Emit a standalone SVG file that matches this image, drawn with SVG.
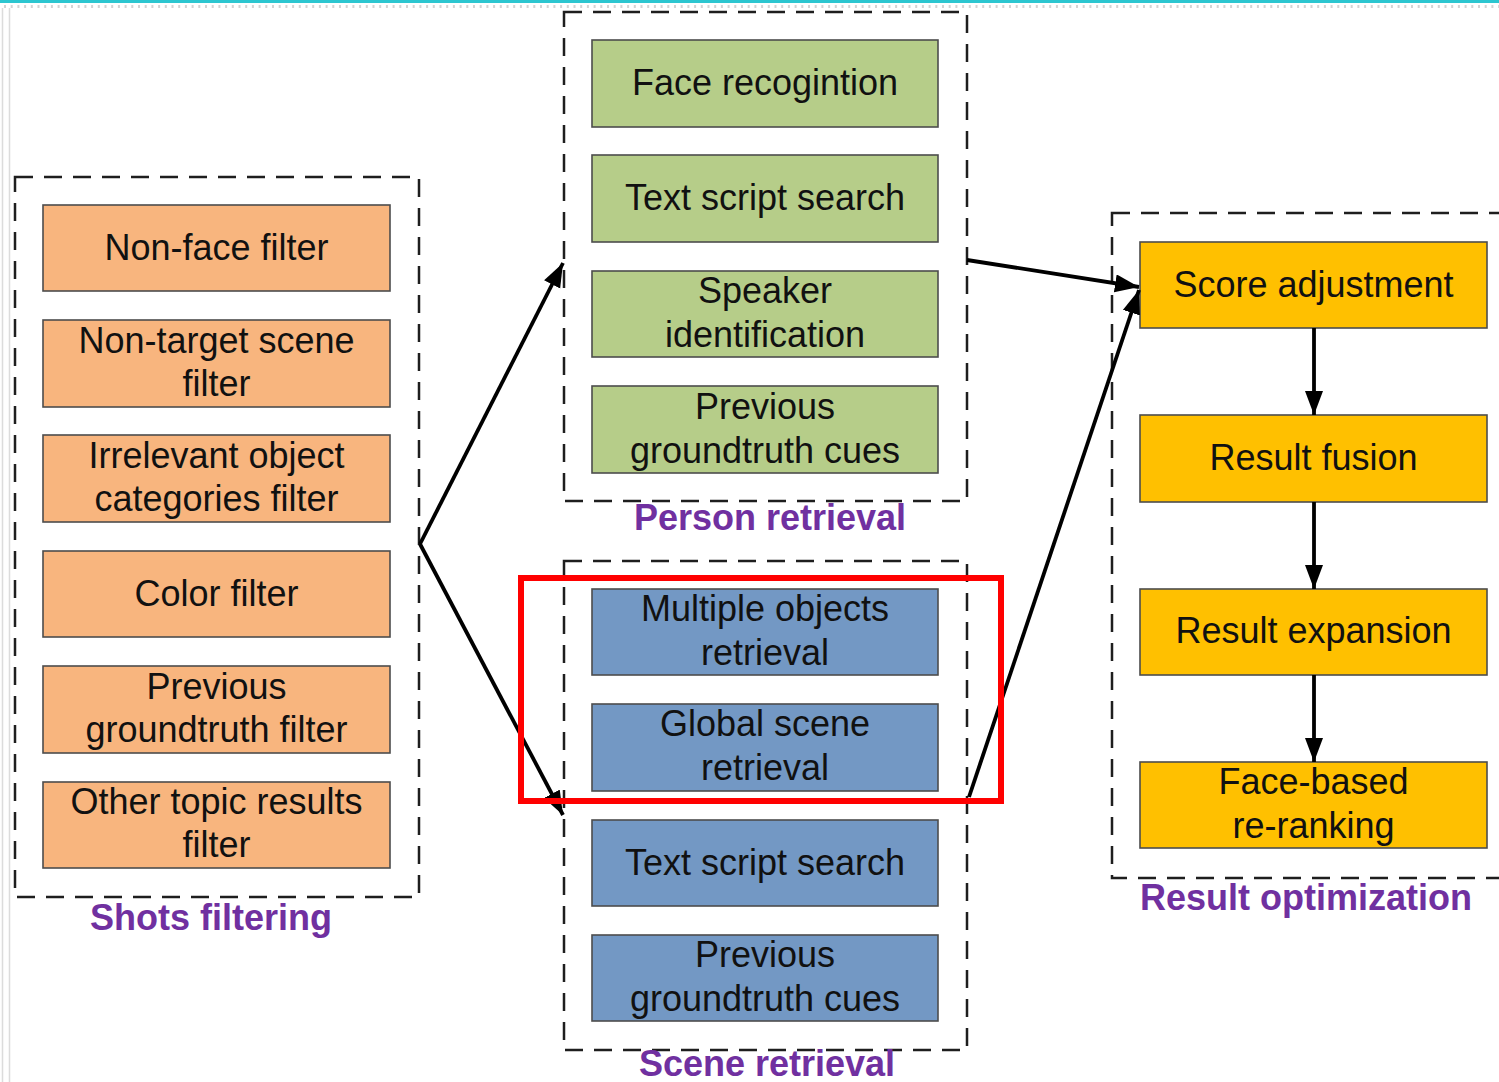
<svg xmlns="http://www.w3.org/2000/svg" width="1499" height="1082" viewBox="0 0 1499 1082">
  <style>
    .frame { fill: none; stroke: #1e1e1e; stroke-width: 2.5; stroke-dasharray: 18 11; }
    .node { stroke: #4d4d4d; stroke-width: 1.6; }
    .orange { fill: #F8B57E; }
    .green { fill: #B6CD89; }
    .blue { fill: #7398C4; }
    .gold { fill: #FFC000; }
    .t { font-family: "Liberation Sans", Arial, sans-serif; font-size: 36px; fill: #111; text-anchor: middle; }
    .cap { font-family: "Liberation Sans", Arial, sans-serif; font-size: 36px; font-weight: bold; fill: #7030A0; text-anchor: middle; }
    .link { stroke: #000; stroke-width: 3.8; fill: none; marker-end: url(#head); }
  </style>
  <defs>
    <marker id="head" markerUnits="userSpaceOnUse" markerWidth="26" markerHeight="20" refX="24" refY="9" orient="auto">
      <path d="M0,0 L24,9 L0,18 z" fill="#000"/>
    </marker>
  </defs>

  <rect width="1499" height="1082" fill="#fff"/>

  <!-- page edge decorations -->
  <rect x="0" y="0" width="1499" height="3" fill="#2CC6D0"/>
  <line x1="4" y1="6.5" x2="1499" y2="6.5" stroke="#d4d4d4" stroke-width="3" stroke-dasharray="2 4.7"/>
  <line x1="2.5" y1="8" x2="2.5" y2="1082" stroke="#dcdcdc" stroke-width="1.5"/>
  <line x1="9.5" y1="8" x2="9.5" y2="1082" stroke="#dcdcdc" stroke-width="1.5"/>

  <!-- group frames -->
  <g id="frames">
    <rect class="frame" x="15" y="177" width="404" height="720"/>
    <rect class="frame" x="564" y="12" width="403" height="489"/>
    <rect class="frame" x="564" y="561" width="403" height="489"/>
    <rect class="frame" x="1112" y="213" width="400" height="665"/>
  </g>

  <!-- group captions -->
  <g id="captions">
    <text class="cap" x="211" y="930">Shots filtering</text>
    <text class="cap" x="770" y="530">Person retrieval</text>
    <text class="cap" x="767" y="1076">Scene retrieval</text>
    <text class="cap" x="1306" y="910">Result optimization</text>
  </g>

  <!-- shots filtering -->
  <g id="non-face-filter">
    <rect class="node orange" x="43" y="205" width="347" height="86"/>
    <text class="t" x="216.5" y="260">Non-face filter</text>
  </g>
  <g id="non-target-scene-filter">
    <rect class="node orange" x="43" y="320" width="347" height="87"/>
    <text class="t" x="216.5" y="353">Non-target scene</text>
    <text class="t" x="216.5" y="396">filter</text>
  </g>
  <g id="irrelevant-object-filter">
    <rect class="node orange" x="43" y="435" width="347" height="87"/>
    <text class="t" x="216.5" y="468">Irrelevant object</text>
    <text class="t" x="216.5" y="511">categories filter</text>
  </g>
  <g id="color-filter">
    <rect class="node orange" x="43" y="551" width="347" height="86"/>
    <text class="t" x="216.5" y="606">Color filter</text>
  </g>
  <g id="previous-groundtruth-filter">
    <rect class="node orange" x="43" y="666" width="347" height="87"/>
    <text class="t" x="216.5" y="699">Previous</text>
    <text class="t" x="216.5" y="742">groundtruth filter</text>
  </g>
  <g id="other-topic-filter">
    <rect class="node orange" x="43" y="782" width="347" height="86"/>
    <text class="t" x="216.5" y="814">Other topic results</text>
    <text class="t" x="216.5" y="857">filter</text>
  </g>

  <!-- person retrieval -->
  <g id="face-recognition">
    <rect class="node green" x="592" y="40" width="346" height="87"/>
    <text class="t" x="765" y="95">Face recogintion</text>
  </g>
  <g id="person-text-script">
    <rect class="node green" x="592" y="155" width="346" height="87"/>
    <text class="t" x="765" y="210">Text script search</text>
  </g>
  <g id="speaker-identification">
    <rect class="node green" x="592" y="271" width="346" height="86"/>
    <text class="t" x="765" y="303">Speaker</text>
    <text class="t" x="765" y="347">identification</text>
  </g>
  <g id="person-groundtruth-cues">
    <rect class="node green" x="592" y="386" width="346" height="87"/>
    <text class="t" x="765" y="419">Previous</text>
    <text class="t" x="765" y="463">groundtruth cues</text>
  </g>

  <!-- scene retrieval -->
  <g id="multiple-objects">
    <rect class="node blue" x="592" y="589" width="346" height="86"/>
    <text class="t" x="765" y="621">Multiple objects</text>
    <text class="t" x="765" y="665">retrieval</text>
  </g>
  <g id="global-scene">
    <rect class="node blue" x="592" y="704" width="346" height="87"/>
    <text class="t" x="765" y="736">Global scene</text>
    <text class="t" x="765" y="780">retrieval</text>
  </g>
  <g id="scene-text-script">
    <rect class="node blue" x="592" y="820" width="346" height="86"/>
    <text class="t" x="765" y="875">Text script search</text>
  </g>
  <g id="scene-groundtruth-cues">
    <rect class="node blue" x="592" y="935" width="346" height="86"/>
    <text class="t" x="765" y="967">Previous</text>
    <text class="t" x="765" y="1011">groundtruth cues</text>
  </g>

  <!-- result optimization -->
  <g id="score-adjustment">
    <rect class="node gold" x="1140" y="242" width="347" height="86"/>
    <text class="t" x="1313.5" y="297">Score adjustment</text>
  </g>
  <g id="result-fusion">
    <rect class="node gold" x="1140" y="415" width="347" height="87"/>
    <text class="t" x="1313.5" y="470">Result fusion</text>
  </g>
  <g id="result-expansion">
    <rect class="node gold" x="1140" y="589" width="347" height="86"/>
    <text class="t" x="1313.5" y="643">Result expansion</text>
  </g>
  <g id="face-based-reranking">
    <rect class="node gold" x="1140" y="762" width="347" height="86"/>
    <text class="t" x="1313.5" y="794">Face-based</text>
    <text class="t" x="1313.5" y="838">re-ranking</text>
  </g>

  <!-- connectors -->
  <g id="connectors">
    <line class="link" x1="420" y1="544" x2="563" y2="263"/>
    <line class="link" x1="420" y1="544" x2="563" y2="815"/>
    <line class="link" x1="967" y1="260" x2="1139" y2="287"/>
    <line class="link" x1="969" y1="797" x2="1139" y2="290"/>
    <line class="link" x1="1314" y1="328" x2="1314" y2="415"/>
    <line class="link" x1="1314" y1="502" x2="1314" y2="589"/>
    <line class="link" x1="1314" y1="675" x2="1314" y2="762"/>
  </g>

  <!-- highlight around the scene retrieval pair -->
  <rect id="highlight" x="521" y="578" width="480" height="223" fill="none" stroke="#FF0000" stroke-width="6"/>
</svg>
